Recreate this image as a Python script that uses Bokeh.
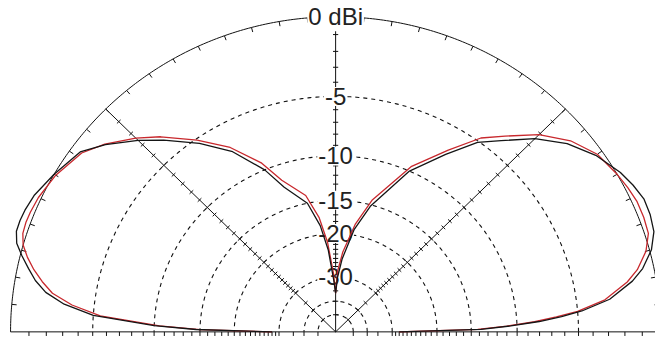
import numpy as np
from bokeh.plotting import figure
from bokeh.models import Range1d
from bokeh.core.properties import value
from bokeh.embed import file_html
from bokeh.resources import INLINE

# ---- data (elevation angle in degrees, gain in dBi) ----
right_angles = [0, 1, 2, 3, 4, 5, 7, 10, 12, 15, 18, 21, 24, 27, 30, 35, 40, 45, 50, 54, 59, 66,
                75, 80, 85, 88, 90]
black_right = [-28, -13.8, -10.6, -8.0, -6.2, -4.7, -2.8, -1.3, -0.6, 0.1, 0.5, 0.62, 0.64, 0.45,
               0.2, -0.4, -1.25, -2.45, -4.0, -5.1, -7.2, -10.0, -15.2, -19.0, -25, -30, -36]
red_right = [-28, -14.2, -11.0, -8.4, -6.6, -5.0, -3.1, -1.6, -0.9, -0.2, 0.2, 0.26, 0.26, 0.15,
             0.0, -0.3, -1.0, -2.1, -3.6, -4.7, -6.8, -9.5, -14.4, -18.2, -23.5, -28, -36]

left_angles = [92, 95, 98, 102, 109, 113, 119, 125, 131, 135, 140, 144, 150, 155, 158, 160, 162,
               164, 166, 168, 170, 172, 174, 176, 178, 179, 180]
black_left = [-31, -23, -18.5, -15.0, -12.4, -10.0, -7.3, -5.4, -3.7, -2.6, -1.35, -0.5, 0.0, 0.4,
              0.52, 0.56, 0.55, 0.35, -0.1, -0.6, -1.1, -1.8, -3.0, -5.0, -10.0, -14.5, -28]
red_left = [-29, -21.5, -17.2, -14.0, -11.6, -9.3, -6.9, -5.1, -3.4, -2.4, -1.3, -0.6, -0.1, 0.15,
            0.22, 0.24, 0.2, 0.0, -0.4, -0.9, -1.5, -2.2, -3.5, -5.5, -10.5, -15, -28]

ring_db = [-5, -10, -15, -20, -30, -40, -50]
label_db = [0, -5, -10, -15, -20, -30]
label_text = ["0 dBi", "-5", "-10", "-15", "-20", "-30"]
tick_db = list(range(-1, -31, -1)) + [-35, -40, -50]
rim_tick_deg = [a for a in range(5, 180, 5) if a != 90]
spoke_deg = [45, 90, 135]


def rad(db):
    # ARRL log scale: radius factor 0.89 per 2 dB
    return 0.89 ** (-np.asarray(db, dtype=float) / 2.0)


def polar(ang_deg, db):
    a = np.radians(np.asarray(ang_deg, dtype=float))
    r = rad(db)
    return r * np.cos(a), r * np.sin(a)


W, H = 655, 339
# reference frame (671x355): centre x 343.3, baseline y 347, radii 333 (x) / 330 (y)
REF_W, REF_H, CX, BY, RX, RY = 671.0, 355.0, 343.3, 347.0, 333.0, 330.0
x0, x1 = -CX / RX, (REF_W - CX) / RX
y1, y0 = BY / RY, (BY - REF_H) / RY

p = figure(width=W, height=H, output_backend="svg", toolbar_location=None,
           x_range=Range1d(x0, x1), y_range=Range1d(y0, y1), min_border=0)
p.axis.visible = False
p.grid.visible = False
p.outline_line_color = None
p.background_fill_color = "white"

# dashed rings
theta = np.linspace(0, np.pi, 361)
ring_xs = [list(rad(d) * np.cos(theta)) for d in ring_db]
ring_ys = [list(rad(d) * np.sin(theta)) for d in ring_db]
p.multi_line(ring_xs, ring_ys, line_color="#111111", line_width=1.1, line_dash="4 4")

# outer circle (0 dB)
p.line(list(np.cos(theta)), list(np.sin(theta)), line_color="#111111", line_width=1)

# rim ticks
ta = np.radians(rim_tick_deg)
p.segment(x0=list(np.cos(ta)), y0=list(np.sin(ta)),
          x1=list(0.985 * np.cos(ta)), y1=list(0.985 * np.sin(ta)),
          line_color="#111111", line_width=1)

# spokes
sa = np.radians(spoke_deg)
p.segment(x0=[0] * len(sa), y0=[0] * len(sa), x1=list(np.cos(sa)), y1=list(np.sin(sa)),
          line_color="#111111", line_width=1)
# baseline
p.segment(x0=[-1], y0=[0], x1=[1], y1=[0], line_color="#111111", line_width=1)

# spoke ticks
h = 0.008
tx0, ty0, tx1, ty1 = [], [], [], []
for a in sa:
    for r in rad(tick_db):
        px, py = r * np.cos(a), r * np.sin(a)
        nx, ny = -np.sin(a), np.cos(a)
        tx0.append(px - h * nx); ty0.append(py - h * ny)
        tx1.append(px + h * nx); ty1.append(py + h * ny)
p.segment(x0=tx0, y0=ty0, x1=tx1, y1=ty1, line_color="#111111", line_width=1)

# baseline ticks
bt = np.concatenate([rad(tick_db), -rad(tick_db)])
p.segment(x0=list(bt), y0=[0] * len(bt), x1=list(bt), y1=[-0.013] * len(bt),
          line_color="#111111", line_width=1)

# labels
p.text(x=[0] * len(label_db), y=list(rad(label_db)), text=label_text,
       text_font=value("Liberation Sans"), text_font_size="24px",
       text_align="center", text_baseline="middle", text_color="#222222",
       background_fill_color="white", padding=1)

# pattern curves
bx, by = polar(right_angles + left_angles, black_right + black_left)
rx, ry = polar(right_angles + left_angles, red_right + red_left)
p.line(list(rx), list(ry), line_color="#c8282d", line_width=1.3)
p.line(list(bx), list(by), line_color="#151515", line_width=1.3)

open("out.html", "w").write(file_html(p, INLINE))
